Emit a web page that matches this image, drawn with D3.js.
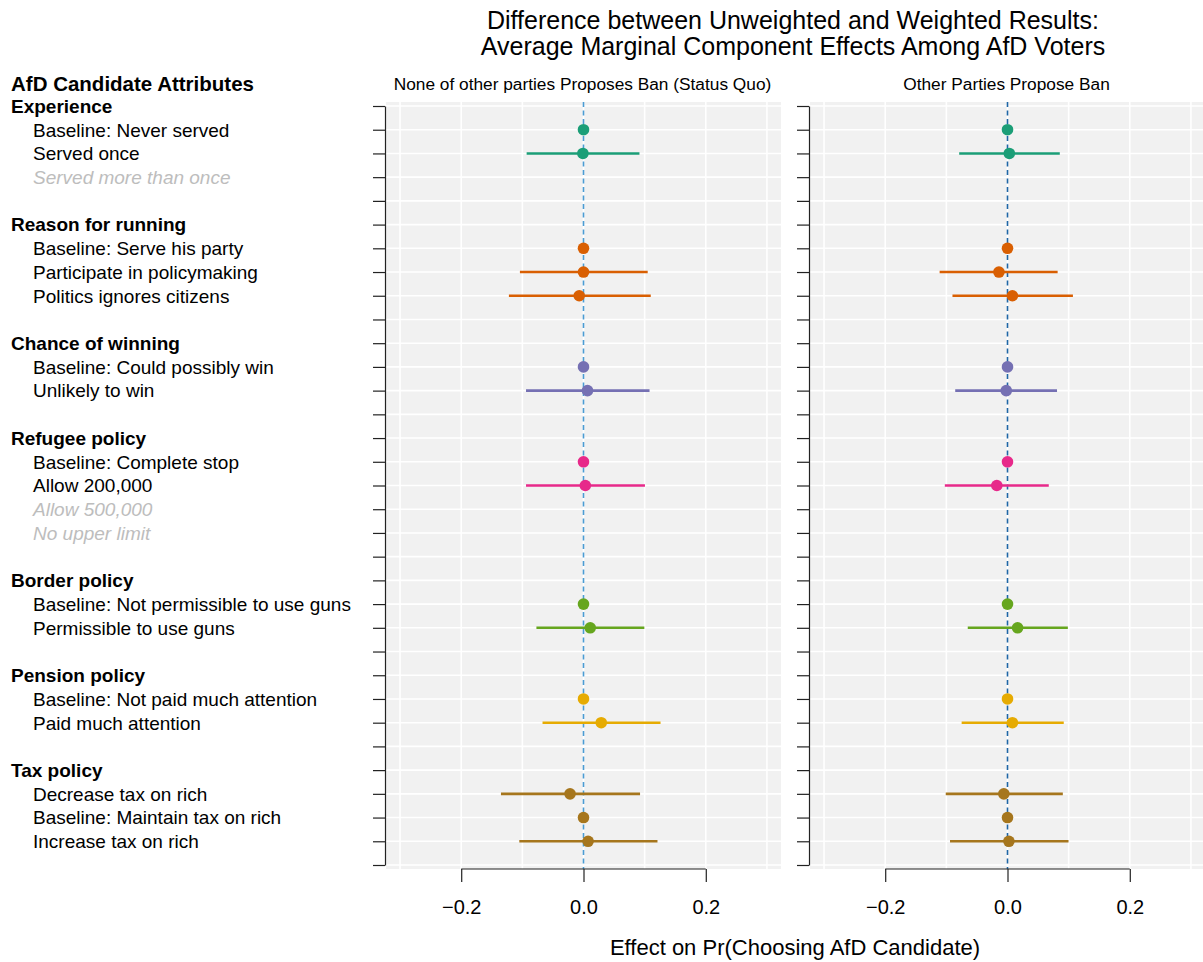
<!DOCTYPE html>
<html>
<head>
<meta charset="utf-8">
<script src="https://cdn.jsdelivr.net/npm/d3@7"></script>
<style>
  body { margin: 0; background: #fff; }
  svg { display: block; font-family: "Liberation Sans", Arial, sans-serif; }
</style>
</head>
<body>
<svg id="chart" width="1203" height="962"></svg>
<script>
// Rows of the left label column (top to bottom), '' = spacer row
const rowLabels = [
  "Experience", "Baseline: Never served", "Served once", "Served more than once", "",
  "Reason for running", "Baseline: Serve his party", "Participate in policymaking", "Politics ignores citizens", "",
  "Chance of winning", "Baseline: Could possibly win", "Unlikely to win", "",
  "Refugee policy", "Baseline: Complete stop", "Allow 200,000", "Allow 500,000", "No upper limit", "",
  "Border policy", "Baseline: Not permissible to use guns", "Permissible to use guns", "",
  "Pension policy", "Baseline: Not paid much attention", "Paid much attention", "",
  "Tax policy", "Decrease tax on rich", "Baseline: Maintain tax on rich", "Increase tax on rich", ""
];
// h = attribute header, l = level, m = level with no estimate
const rowTypes = [
  "h", "l", "l", "m", "",
  "h", "l", "l", "l", "",
  "h", "l", "l", "",
  "h", "l", "l", "m", "m", "",
  "h", "l", "l", "",
  "h", "l", "l", "",
  "h", "l", "l", "l", ""
];

const panels = ["None of other parties Proposes Ban (Status Quo)", "Other Parties Propose Ban"];

// estimated levels and their attribute index (for colour)
const levels = [
  "Baseline: Never served", "Served once",
  "Baseline: Serve his party", "Participate in policymaking", "Politics ignores citizens",
  "Baseline: Could possibly win", "Unlikely to win",
  "Baseline: Complete stop", "Allow 200,000",
  "Baseline: Not permissible to use guns", "Permissible to use guns",
  "Baseline: Not paid much attention", "Paid much attention",
  "Decrease tax on rich", "Baseline: Maintain tax on rich", "Increase tax on rich"
];
const levelAttr = [0, 0, 1, 1, 1, 2, 2, 3, 3, 4, 4, 5, 5, 6, 6, 6];

// panel 1: status quo
const estStatusQuo = [0, -0.001, 0, 0.000, -0.007, 0, 0.0065, 0, 0.003, 0, 0.011, 0, 0.029, -0.022, 0, 0.0075];
const loStatusQuo  = [null, -0.093, null, -0.104, -0.122, null, -0.094, null, -0.094, null, -0.077, null, -0.067, -0.135, null, -0.105];
const hiStatusQuo  = [null, 0.0915, null, 0.105, 0.110, null, 0.108, null, 0.1005, null, 0.0995, null, 0.126, 0.0925, null, 0.121];

// panel 2: other parties propose ban
const estBan = [0, 0.003, 0, -0.014, 0.008, 0, -0.002, 0, -0.0175, 0, 0.0165, 0, 0.008, -0.006, 0, 0.0023];
const loBan  = [null, -0.079, null, -0.111, -0.090, null, -0.0855, null, -0.1025, null, -0.065, null, -0.075, -0.101, null, -0.094];
const hiBan  = [null, 0.0855, null, 0.082, 0.107, null, 0.081, null, 0.0675, null, 0.0987, null, 0.092, 0.0905, null, 0.0998];

const xTicks = [-0.2, 0, 0.2];
const xGrid = [-0.3, -0.2, -0.1, 0, 0.1, 0.2, 0.3];
const attrColors = ["#1B9E77", "#D95F02", "#7570B3", "#E7298A", "#66A61E", "#E6AB02", "#A6761D"];
const zeroColors = ["#4b9cd3", "#1f66a6"];

const svg = d3.select("#chart");

const y = d3.scalePoint().domain(d3.range(rowLabels.length)).range([106, 865]);
const panelTop = 102, panelBottom = 869;
const panelRanges = [[386, 781], [810, 1205]];
const series = [
  { est: estStatusQuo, lo: loStatusQuo, hi: hiStatusQuo },
  { est: estBan, lo: loBan, hi: hiBan }
];

// titles
svg.append("text").attr("x", 793).attr("y", 29).attr("text-anchor", "middle")
  .style("font-size", "25px").text("Difference between Unweighted and Weighted Results:");
svg.append("text").attr("x", 793).attr("y", 55).attr("text-anchor", "middle")
  .style("font-size", "25px").text("Average Marginal Component Effects Among AfD Voters");

svg.append("text").attr("x", 11).attr("y", 91)
  .style("font-size", "20.5px").style("font-weight", "bold").text("AfD Candidate Attributes");

// left labels
svg.append("g").selectAll("text")
  .data(rowLabels.map((d, i) => ({ label: d, type: rowTypes[i], i })).filter(d => d.label))
  .join("text")
  .attr("x", d => d.type === "h" ? 11 : 33)
  .attr("y", d => y(d.i))
  .attr("dy", "0.36em")
  .style("font-size", "19px")
  .style("font-weight", d => d.type === "h" ? "bold" : null)
  .style("font-style", d => d.type === "m" ? "italic" : null)
  .attr("fill", d => d.type === "m" ? "#bdbdbd" : "#000")
  .text(d => d.label);

panels.forEach((name, p) => {
  const x = d3.scaleLinear().domain([-0.323, 0.323]).range(panelRanges[p]);
  const g = svg.append("g");
  const [x0, x1] = panelRanges[p];

  g.append("rect").attr("x", x0).attr("y", panelTop)
    .attr("width", x1 - x0).attr("height", panelBottom - panelTop).attr("fill", "#f1f1f1");

  g.selectAll("line.vg").data(xGrid).join("line").attr("class", "vg")
    .attr("x1", d => x(d)).attr("x2", d => x(d))
    .attr("y1", panelTop).attr("y2", panelBottom)
    .attr("stroke", "#fff").attr("stroke-width", 1.6);

  g.selectAll("line.hg").data(y.domain()).join("line").attr("class", "hg")
    .attr("x1", x0).attr("x2", x1)
    .attr("y1", d => y(d)).attr("y2", d => y(d))
    .attr("stroke", "#fff").attr("stroke-width", 1.6);

  // facet label
  svg.append("text").attr("x", (x0 + x1) / 2 - 1).attr("y", 90).attr("text-anchor", "middle")
    .style("font-size", "17.3px").text(name);

  // zero reference line
  g.append("line").attr("x1", x(0)).attr("x2", x(0))
    .attr("y1", panelTop).attr("y2", panelBottom)
    .attr("stroke", zeroColors[p]).attr("stroke-width", 1.6).attr("stroke-dasharray", "5,3.5");

  // y axis
  svg.append("g").attr("transform", `translate(${x0 - 1},0)`)
    .call(d3.axisLeft(y).tickSizeInner(12).tickSizeOuter(0).tickFormat(""))
    .call(a => a.selectAll("line, path").attr("stroke", "#222").attr("stroke-width", 1.2));

  // x axis
  svg.append("g").attr("transform", `translate(0,${panelBottom})`)
    .call(d3.axisBottom(x).tickValues(xTicks).tickSize(13).tickPadding(18).tickFormat(d3.format(".1f")))
    .call(a => a.select(".domain").remove())
    .call(a => a.selectAll("line").attr("stroke", "#222").attr("stroke-width", 1.2))
    .call(a => a.selectAll("text").style("font-size", "20px").attr("fill", "#000")
      .style("font-family", "'Liberation Sans', Arial, sans-serif"))
    .call(a => a.append("line").attr("x1", x(xTicks[0])).attr("x2", x(xTicks[xTicks.length - 1]))
      .attr("stroke", "#222").attr("stroke-width", 1.2));

  // estimates
  const s = series[p];
  const pts = levels.map((lv, i) => ({
    row: rowLabels.indexOf(lv), est: s.est[i], lo: s.lo[i], hi: s.hi[i], color: attrColors[levelAttr[i]]
  }));

  g.selectAll("line.ci").data(pts.filter(d => d.lo !== null)).join("line").attr("class", "ci")
    .attr("x1", d => x(d.lo)).attr("x2", d => x(d.hi))
    .attr("y1", d => y(d.row)).attr("y2", d => y(d.row))
    .attr("stroke", d => d.color).attr("stroke-width", 2.6);

  g.selectAll("circle").data(pts).join("circle")
    .attr("cx", d => x(d.est)).attr("cy", d => y(d.row)).attr("r", 5.8)
    .attr("fill", d => d.color);
});

svg.append("text").attr("x", 795).attr("y", 955).attr("text-anchor", "middle")
  .style("font-size", "22px").text("Effect on Pr(Choosing AfD Candidate)");
</script>
</body>
</html>
